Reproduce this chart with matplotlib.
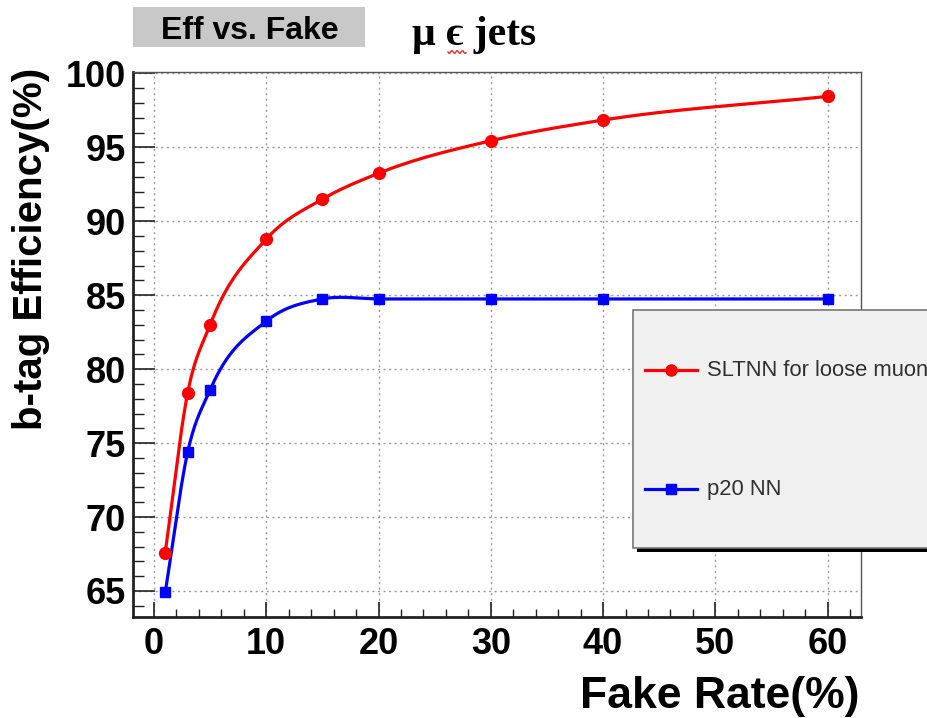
import numpy as np
import matplotlib
matplotlib.use("Agg")
from matplotlib import pyplot as plt
from matplotlib.patches import Rectangle
from matplotlib.lines import Line2D

# fake rate (%) and b-tag efficiency (%)
fake_rate = [1, 3, 5, 10, 15, 20, 30, 40, 60]
eff_sltnn = [67.6, 78.4, 83.0, 88.8, 91.5, 93.25, 95.45, 96.85, 98.45]
eff_p20 = [64.9, 74.4, 78.6, 83.25, 84.75, 84.75, 84.75, 84.75, 84.75]
names = ["SLTNN for loose muon", "p20 NN"]
x_ticks = [0, 10, 20, 30, 40, 50, 60]
y_ticks = [65, 70, 75, 80, 85, 90, 95, 100]

W, H = 928, 718
SANS = "Liberation Sans"


def smooth(xs, ys, n=40):
    # cubic hermite through the points (smooth curve like ROOT's "C" option)
    x = np.asarray(xs, float)
    y = np.asarray(ys, float)
    h = np.diff(x)
    s = np.diff(y) / h
    d = np.empty_like(y)
    d[0] = s[0]
    d[-1] = s[-1]
    d[1:-1] = (h[1:] * s[:-1] + h[:-1] * s[1:]) / (h[:-1] + h[1:])
    ox, oy = [], []
    t = np.linspace(0, 1, n)
    for i in range(len(x) - 1):
        h00 = 2 * t**3 - 3 * t**2 + 1
        h10 = t**3 - 2 * t**2 + t
        h01 = -2 * t**3 + 3 * t**2
        h11 = t**3 - t**2
        ox.append(x[i] + t * h[i])
        oy.append(h00 * y[i] + h10 * h[i] * d[i] + h01 * y[i + 1] + h11 * h[i] * d[i + 1])
    return np.concatenate(ox), np.concatenate(oy)


fig = plt.figure(figsize=(W / 100, H / 100), dpi=100)
ax = fig.add_axes([133 / W, 1 - 617 / H, (861 - 133) / W, (617 - 72) / H])
ax.set_xlim(-1.87, 62.97)
ax.set_ylim(63.24, 100.1)

ax.grid(True, color="#9a9a9a", linestyle=(0, (1.5, 2.5)), linewidth=1.0)
ax.set_axisbelow(True)

sx, sy = smooth(fake_rate, eff_sltnn)
ax.plot(sx, sy, color="#ff0000", lw=2.3, zorder=3)
ax.plot(fake_rate, eff_sltnn, "o", color="#ff0000", ms=8.5, zorder=4)
bx, by = smooth(fake_rate, eff_p20)
ax.plot(bx, by, color="#0000ff", lw=2.3, zorder=3)
ax.plot(fake_rate, eff_p20, "s", color="#0000ff", ms=7.5, zorder=4)

ax.set_xticks(x_ticks)
ax.set_xticks(np.arange(0, 63, 2), minor=True)
ax.set_yticks(y_ticks)
ax.set_yticks(np.arange(64, 101, 1), minor=True)
ax.tick_params(which="both", direction="in", top=False, right=False, color="#222222")
ax.tick_params(axis="x", which="major", length=11, width=1.2, pad=7)
ax.tick_params(axis="x", which="minor", length=5.5, width=1.0)
ax.tick_params(axis="y", which="major", length=16, width=1.2, pad=5)
ax.tick_params(axis="y", which="minor", length=8, width=1.0)
for lab in ax.get_xticklabels() + ax.get_yticklabels():
    lab.set_fontfamily(SANS)
    lab.set_fontweight("bold")
    lab.set_fontsize(26)

ax.spines["left"].set_linewidth(2.0)
ax.spines["bottom"].set_linewidth(2.0)
ax.spines["left"].set_color("#222222")
ax.spines["bottom"].set_color("#222222")
ax.spines["right"].set_linewidth(1.0)
ax.spines["top"].set_linewidth(1.0)
ax.spines["right"].set_color("#555555")
ax.spines["top"].set_color("#555555")

fig.text(860 / W, 1 - 708 / H, "Fake Rate(%)", ha="right", va="baseline",
         fontfamily=SANS, fontweight="bold", fontsize=32)
fig.text(31 / W, 1 - 68 / H, "b-tag Efficiency(%)", rotation=90, ha="center",
         va="top", fontfamily=SANS, fontweight="bold", fontsize=29)

# title box
fig.patches.append(Rectangle((133 / W, 1 - 47 / H), 232 / W, 40 / H,
                             transform=fig.transFigure, facecolor="#c8c8c8",
                             edgecolor="none"))
fig.text(250 / W, 1 - 31 / H, "Eff vs. Fake", ha="center", va="center",
         fontfamily=SANS, fontweight="bold", fontsize=23)
fig.text(412 / W, 1 - 45 / H, "\u03bc \u03f5 jets", ha="left", va="baseline",
         fontfamily=["Liberation Serif", "DejaVu Serif"], fontweight="bold", fontsize=30)
wx = np.linspace(448, 466, 20)
wy = 52 + 1.5 * np.sin((wx - 448) * 1.2)
fig.lines.append(Line2D(wx / W, 1 - wy / H, transform=fig.transFigure,
                        color="#e03030", lw=1.0))

# legend box (runs off the right edge)
fig.patches.append(Rectangle((637 / W, 1 - 552 / H), 400 / W, 238 / H,
                             transform=fig.transFigure, facecolor="#000000",
                             edgecolor="none", zorder=5))
fig.patches.append(Rectangle((633 / W, 1 - 548 / H), 400 / W, 238 / H,
                             transform=fig.transFigure, facecolor="#f0f0f0",
                             edgecolor="#777777", lw=1.2, zorder=6))
for name, col, mk, ms, ypx in [(names[0], "#ff0000", "o", 8, 370),
                               (names[1], "#0000ff", "s", 7.5, 489)]:
    fig.lines.append(Line2D([645 / W, 697 / W], [1 - ypx / H, 1 - ypx / H],
                            transform=fig.transFigure, color=col, lw=2.3, zorder=7))
    fig.lines.append(Line2D([671 / W], [1 - ypx / H], transform=fig.transFigure,
                            color=col, marker=mk, ms=ms, lw=0, zorder=7))
    fig.text(707 / W, 1 - ypx / H, name, ha="left", va="center", fontfamily=SANS,
             fontsize=15.8, color="#303030", zorder=8)

fig.savefig("out.png", dpi=100)
